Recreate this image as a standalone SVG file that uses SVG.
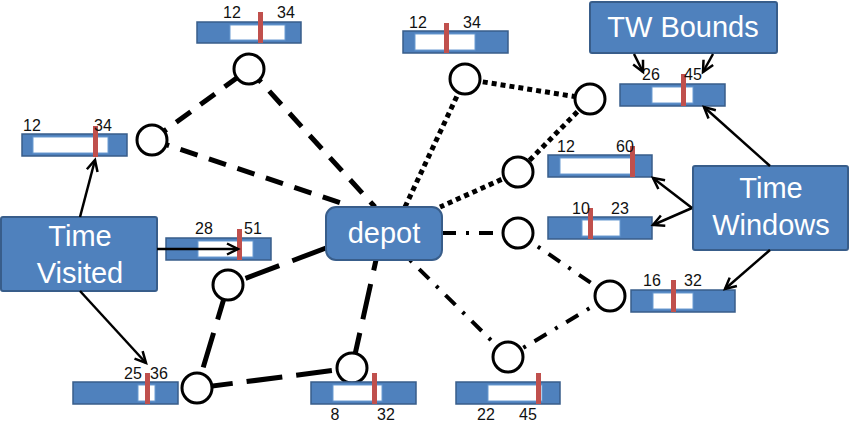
<svg xmlns="http://www.w3.org/2000/svg" width="850" height="426" viewBox="0 0 850 426">
<defs>
<marker id="ah" markerUnits="userSpaceOnUse" markerWidth="16" markerHeight="16" refX="12" refY="6" orient="auto" viewBox="0 0 16 12">
<path d="M1,0.5 L12,6 L1,11.5" fill="none" stroke="#000" stroke-width="2.5"/>
</marker>
</defs>
<style>
.box{fill:#4F81BD;stroke:#385D8A;stroke-width:2}
.bt{fill:#fff;font-family:"Liberation Sans",Arial,sans-serif;font-size:29px;text-anchor:middle}
.bar{fill:#4F81BD;stroke:#385D8A;stroke-width:1.5}
.win{fill:#fff;stroke:#6B9BD2;stroke-width:1}
.red{fill:#C0504D}
.lb{fill:#111;font-family:"Liberation Sans",Arial,sans-serif;font-size:16px;text-anchor:middle}
.cn{fill:#fff;stroke:#000;stroke-width:3}
.dash{stroke:#000;stroke-width:5;fill:none;stroke-dasharray:18 12}
.ldash{stroke:#000;stroke-width:5;fill:none;stroke-dasharray:36 14}
.dot{stroke:#000;stroke-width:5;fill:none;stroke-dasharray:5 4}
.dd{stroke:#000;stroke-width:4;fill:none;stroke-dasharray:14 10 3 10}
.arr{stroke:#000;stroke-width:2.5;fill:none;marker-end:url(#ah)}
</style>
<g id="connectors">
<line class="dash" x1="249" y1="69" x2="375" y2="207"/>
<line class="dash" x1="152" y1="140" x2="249" y2="69"/>
<line class="dash" x1="152" y1="140" x2="347" y2="205"/>
<line class="ldash" x1="326" y1="248" x2="228" y2="285"/>
<line class="ldash" x1="228" y1="285" x2="197" y2="388"/>
<line class="ldash" x1="197" y1="388" x2="352" y2="368"/>
<line class="ldash" x1="352" y1="368" x2="376" y2="260"/>
<line class="dot" x1="405" y1="207" x2="465" y2="79"/>
<line class="dot" x1="465" y1="79" x2="590" y2="99"/>
<line class="dot" x1="590" y1="99" x2="518" y2="172"/>
<line class="dot" x1="518" y1="172" x2="440" y2="207"/>
<line class="dd" x1="442" y1="233" x2="518" y2="233"/>
<line class="dd" x1="518" y1="233" x2="610" y2="296"/>
<line class="dd" x1="610" y1="296" x2="508" y2="357"/>
<line class="dd" x1="508" y1="357" x2="410" y2="260"/>
</g>
<g id="depot"><rect class="box" x="326" y="207" width="116" height="53" rx="10"/><text class="bt" x="384" y="243">depot</text></g>
<g id="tw-bounds"><rect class="box" x="590" y="2" width="187" height="51" rx="2"/><text class="bt" x="683" y="37">TW Bounds</text></g>
<g id="time-windows"><rect class="box" x="693" y="166" width="155" height="84" rx="2"/><text class="bt" x="771" y="198">Time</text><text class="bt" x="771" y="235">Windows</text></g>
<g id="time-visited"><rect class="box" x="1" y="217" width="156" height="74" rx="2"/><text class="bt" x="80" y="246">Time</text><text class="bt" x="80" y="283">Visited</text></g>
<g id="c1"><circle class="cn" cx="249" cy="69" r="15"/></g>
<g id="c2"><circle class="cn" cx="152" cy="140" r="15"/></g>
<g id="c3"><circle class="cn" cx="465" cy="79" r="15"/></g>
<g id="c4"><circle class="cn" cx="590" cy="99" r="15"/></g>
<g id="c5"><circle class="cn" cx="518" cy="172" r="15"/></g>
<g id="c6"><circle class="cn" cx="518" cy="233" r="15"/></g>
<g id="c7"><circle class="cn" cx="610" cy="296" r="15"/></g>
<g id="c8"><circle class="cn" cx="508" cy="357" r="15"/></g>
<g id="c9"><circle class="cn" cx="228" cy="285" r="15"/></g>
<g id="c10"><circle class="cn" cx="197" cy="388" r="15"/></g>
<g id="c11"><circle class="cn" cx="352" cy="368" r="15"/></g>
<g id="bar1"><rect class="bar" x="197" y="22" width="104" height="21"/><rect class="win" x="230" y="25" width="55" height="15"/><rect class="red" x="258" y="12" width="5" height="31"/><text class="lb" x="232" y="18">12</text><text class="lb" x="286" y="18">34</text></g>
<g id="bar2"><rect class="bar" x="22" y="134" width="105" height="22"/><rect class="win" x="33" y="137" width="75" height="16"/><rect class="red" x="93" y="126" width="5" height="31"/><text class="lb" x="32" y="131">12</text><text class="lb" x="103" y="131">34</text></g>
<g id="bar3"><rect class="bar" x="403" y="31" width="105" height="22"/><rect class="win" x="415" y="34" width="60" height="16"/><rect class="red" x="444" y="23" width="5" height="30"/><text class="lb" x="418" y="28">12</text><text class="lb" x="472" y="28">34</text></g>
<g id="bar4"><rect class="bar" x="620" y="84" width="105" height="22"/><rect class="win" x="652" y="87" width="41" height="16"/><rect class="red" x="681" y="74" width="5" height="32"/><text class="lb" x="651" y="80">26</text><text class="lb" x="693" y="80">45</text></g>
<g id="bar5"><rect class="bar" x="548" y="155" width="104" height="22"/><rect class="win" x="560" y="158" width="73" height="16"/><rect class="red" x="630" y="146" width="5" height="31"/><text class="lb" x="566" y="152">12</text><text class="lb" x="625" y="152">60</text></g>
<g id="bar6"><rect class="bar" x="548" y="217" width="104" height="22"/><rect class="win" x="582" y="220" width="38" height="16"/><rect class="red" x="588" y="208" width="5" height="31"/><text class="lb" x="581" y="214">10</text><text class="lb" x="620" y="214">23</text></g>
<g id="bar7"><rect class="bar" x="631" y="290" width="104" height="22"/><rect class="win" x="653" y="293" width="40" height="16"/><rect class="red" x="671" y="280" width="5" height="32"/><text class="lb" x="652" y="286">16</text><text class="lb" x="693" y="286">32</text></g>
<g id="bar8"><rect class="bar" x="166" y="238" width="105" height="22"/><rect class="win" x="198" y="241" width="55" height="16"/><rect class="red" x="237" y="229" width="5" height="31"/><text class="lb" x="204" y="234">28</text><text class="lb" x="253" y="234">51</text></g>
<g id="bar9"><rect class="bar" x="73" y="382" width="105" height="22"/><rect class="win" x="138" y="385" width="17" height="16"/><rect class="red" x="145" y="373" width="5" height="31"/><text class="lb" x="133" y="379">25</text><text class="lb" x="159" y="379">36</text></g>
<g id="bar10"><rect class="bar" x="311" y="382" width="105" height="22"/><rect class="win" x="333" y="385" width="49" height="16"/><rect class="red" x="372" y="373" width="5" height="31"/><text class="lb" x="335" y="420">8</text><text class="lb" x="386" y="420">32</text></g>
<g id="bar11"><rect class="bar" x="456" y="382" width="104" height="22"/><rect class="win" x="488" y="385" width="54" height="16"/><rect class="red" x="536" y="373" width="5" height="31"/><text class="lb" x="486" y="420">22</text><text class="lb" x="528" y="420">45</text></g>
<g id="arrows">
<line class="arr" x1="634" y1="54" x2="643" y2="72"/>
<line class="arr" x1="713" y1="54" x2="703" y2="72"/>
<line class="arr" x1="770" y1="166" x2="704" y2="107"/>
<line class="arr" x1="692" y1="208" x2="653" y2="178"/>
<line class="arr" x1="692" y1="208" x2="653" y2="225"/>
<line class="arr" x1="770" y1="250" x2="725" y2="289"/>
<line class="arr" x1="80" y1="217" x2="95" y2="160"/>
<line class="arr" x1="157" y1="249" x2="238" y2="249"/>
<line class="arr" x1="80" y1="291" x2="146" y2="363"/>
</g>
</svg>
